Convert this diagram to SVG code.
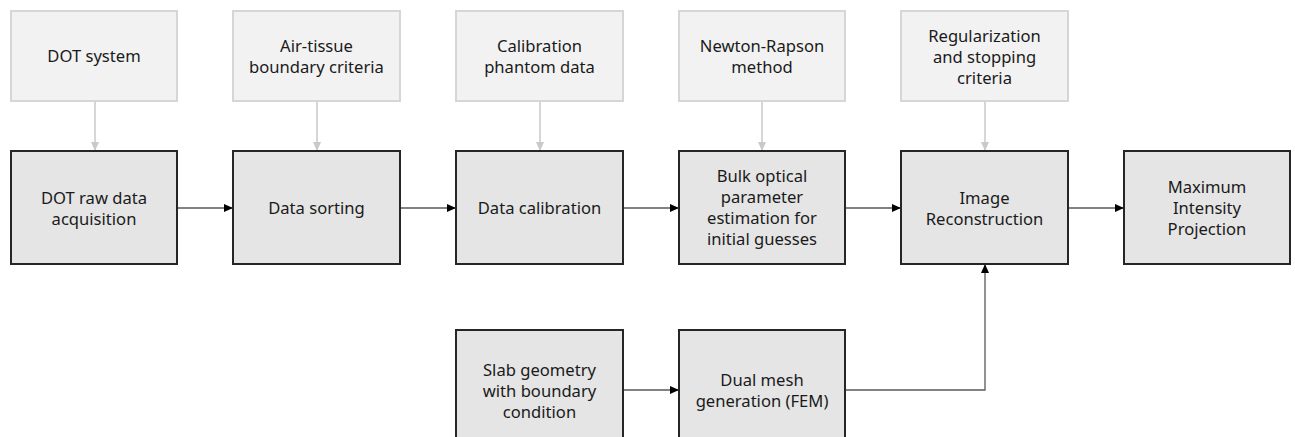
<svg xmlns="http://www.w3.org/2000/svg" width="1295" height="437" viewBox="0 0 1295 437">
<defs>
<style>
.top{fill:#f2f2f2;stroke:#d6d6d6;stroke-width:2}
.main{fill:#e5e5e5;stroke:#262626;stroke-width:2}
text{font-family:"Noto Sans","Open Sans",sans-serif;font-size:16.6px;fill:#1a1a1a;text-anchor:middle}
.gl{stroke:#c9c9c9;stroke-width:1.5;fill:none}
.dl{stroke:#595959;stroke-width:1.3;fill:none}
</style>
<marker id="ag" markerWidth="10" markerHeight="10" refX="9" refY="5" orient="auto" markerUnits="userSpaceOnUse">
<path d="M0,1 L9,5 L0,9 Z" fill="#c9c9c9"/>
</marker>
<marker id="ab" markerWidth="10" markerHeight="10" refX="9" refY="5" orient="auto" markerUnits="userSpaceOnUse">
<path d="M0,1 L9,5 L0,9 Z" fill="#000"/>
</marker>
</defs>
<rect width="1295" height="437" fill="#fff"/>

<g id="connectors">
<line class="gl" x1="95" y1="101" x2="95" y2="151" marker-end="url(#ag)"/>
<line class="gl" x1="317" y1="101" x2="317" y2="151" marker-end="url(#ag)"/>
<line class="gl" x1="540" y1="101" x2="540" y2="151" marker-end="url(#ag)"/>
<line class="gl" x1="762" y1="101" x2="762" y2="151" marker-end="url(#ag)"/>
<line class="gl" x1="985" y1="101" x2="985" y2="151" marker-end="url(#ag)"/>
<line class="dl" x1="177" y1="208" x2="233" y2="208" marker-end="url(#ab)"/>
<line class="dl" x1="400" y1="208" x2="456" y2="208" marker-end="url(#ab)"/>
<line class="dl" x1="623" y1="208" x2="679" y2="208" marker-end="url(#ab)"/>
<line class="dl" x1="845" y1="208" x2="901" y2="208" marker-end="url(#ab)"/>
<line class="dl" x1="1068" y1="208" x2="1124" y2="208" marker-end="url(#ab)"/>
<line class="dl" x1="623" y1="390" x2="679" y2="390" marker-end="url(#ab)"/>
<polyline class="dl" points="845,390 985,390 985,264" marker-end="url(#ab)"/>
</g>

<g id="n-dot-system"><rect class="top" x="11" y="11" width="166" height="90"/><text x="94" y="62">DOT system</text></g>
<g id="n-air-tissue"><rect class="top" x="233" y="11" width="167" height="90"/><text x="316.5" y="52">Air-tissue</text><text x="316.5" y="73">boundary criteria</text></g>
<g id="n-calib-phantom"><rect class="top" x="456" y="11" width="167" height="90"/><text x="539.5" y="52">Calibration</text><text x="539.5" y="73">phantom data</text></g>
<g id="n-newton"><rect class="top" x="679" y="11" width="166" height="90"/><text x="762" y="52">Newton-Rapson</text><text x="762" y="73">method</text></g>
<g id="n-regularization"><rect class="top" x="901" y="11" width="167" height="90"/><text x="984.5" y="42">Regularization</text><text x="984.5" y="63">and stopping</text><text x="984.5" y="84">criteria</text></g>

<g id="n-raw"><rect class="main" x="11" y="151" width="166" height="113"/><text x="94" y="204">DOT raw data</text><text x="94" y="225">acquisition</text></g>
<g id="n-sorting"><rect class="main" x="233" y="151" width="167" height="113"/><text x="316.5" y="214">Data sorting</text></g>
<g id="n-calibration"><rect class="main" x="456" y="151" width="167" height="113"/><text x="539.5" y="214">Data calibration</text></g>
<g id="n-bulk"><rect class="main" x="679" y="151" width="166" height="113"/><text x="762" y="182">Bulk optical</text><text x="762" y="203">parameter</text><text x="762" y="224">estimation for</text><text x="762" y="245">initial guesses</text></g>
<g id="n-recon"><rect class="main" x="901" y="151" width="167" height="113"/><text x="984.5" y="204">Image</text><text x="984.5" y="225">Reconstruction</text></g>
<g id="n-mip"><rect class="main" x="1124" y="151" width="166" height="113"/><text x="1207" y="193">Maximum</text><text x="1207" y="214">Intensity</text><text x="1207" y="235">Projection</text></g>

<g id="n-slab"><rect class="main" x="456" y="330" width="167" height="122"/><text x="539.5" y="376">Slab geometry</text><text x="539.5" y="397">with boundary</text><text x="539.5" y="418">condition</text></g>
<g id="n-mesh"><rect class="main" x="679" y="330" width="166" height="122"/><text x="762" y="386">Dual mesh</text><text x="762" y="407">generation (FEM)</text></g>
</svg>
